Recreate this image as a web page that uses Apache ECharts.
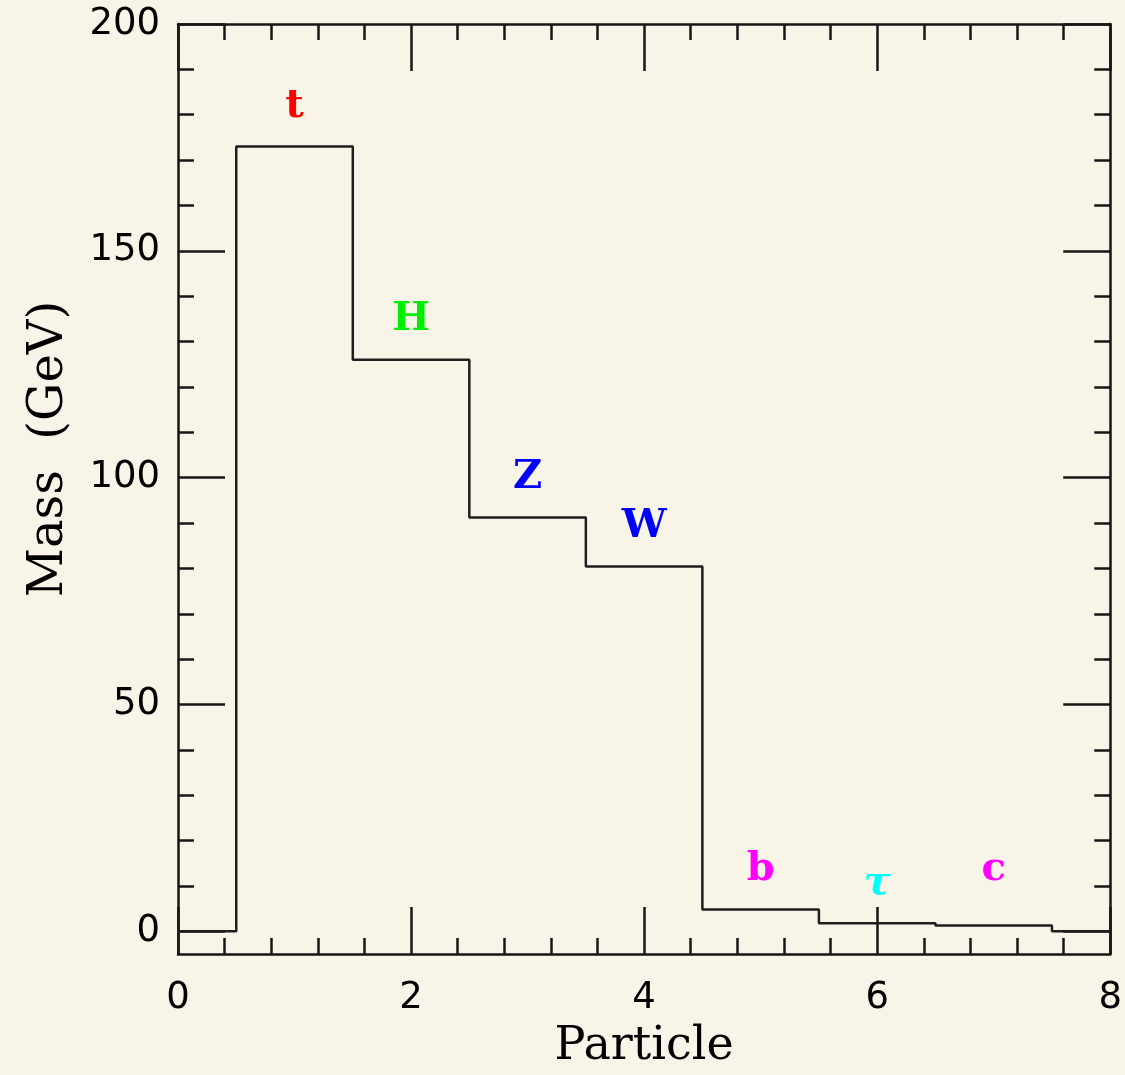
<!DOCTYPE html>
<html lang="en">
<head>
    <meta charset="UTF-8">
    <title>Particle masses</title>
    <script src="https://cdn.jsdelivr.net/npm/echarts@6/dist/echarts.min.js"></script>
    <style>
        html, body {
            margin: 0;
            padding: 0;
            background-color: #f8f4e8;
        }
        #chart {
            width: 1125px;
            height: 1075px;
        }
    </style>
</head>
<body>
<div id="chart"></div>
<script>
    // particles in order of mass, plotted at x = 1..7
    var particles = ['t', 'H', 'Z', 'W', 'b', 'τ', 'c'];
    var masses = [173, 126, 91.2, 80.4, 4.8, 1.8, 1.3];
    var labelColors = ['#ff0000', '#00ee00', '#0000ff', '#0000ff', '#ff00ff', '#00ffff', '#ff00ff'];

    // y tick values (axis starts a little below 0)
    var yMajorTicks = [0, 50, 100, 150, 200];
    var yMinorTicks = [10, 20, 30, 40, 60, 70, 80, 90, 110, 120, 130, 140, 160, 170, 180, 190];

    var chart = echarts.init(document.getElementById('chart'));

    // step histogram: flat 0 at both ends
    var stepData = [[0, 0]];
    masses.forEach(function (m, i) {
        var name = particles[i];
        stepData.push({
            value: [i + 1, m],
            label: {
                show: true,
                formatter: name,
                color: labelColors[i],
                fontStyle: name === 'τ' ? 'italic' : 'normal',
                // the c sits level with the b in the original
                distance: name === 'c' ? 36 : 20
            }
        });
    });
    stepData.push([8, 0]);

    var inkColor = '#161616';
    var tickFont = 'DejaVu Sans';
    var textFont = 'DejaVu Serif';

    function xAxisCfg(pos, showLabels) {
        return {
            type: 'value',
            position: pos,
            min: 0,
            max: 8,
            interval: 2,
            name: showLabels ? 'Particle' : '',
            nameLocation: 'middle',
            nameGap: 70,
            nameTextStyle: { fontFamily: textFont, fontSize: 46, color: '#000' },
            axisLine: { show: true, onZero: false, lineStyle: { color: inkColor, width: 2.5 } },
            axisTick: { show: true, inside: true, length: 47, lineStyle: { color: inkColor, width: 2.5 } },
            minorTick: { show: true, splitNumber: 5, length: 16, lineStyle: { color: inkColor, width: 2.5 } },
            axisLabel: { show: showLabels, margin: 26, fontFamily: tickFont, fontSize: 37, color: '#000' },
            splitLine: { show: false },
            minorSplitLine: { show: false }
        };
    }

    function yAxisCfg(pos, ticks, tickLen, major) {
        var showLabels = major && pos === 'left';
        return {
            type: 'value',
            position: pos,
            min: -5,
            max: 200,
            name: showLabels ? 'Mass  (GeV)' : '',
            nameLocation: 'middle',
            nameGap: 104,
            nameTextStyle: { fontFamily: textFont, fontSize: 48, color: '#000', padding: [0, 0, 0, 80] },
            axisLine: { show: major, onZero: false, lineStyle: { color: inkColor, width: 2.5 } },
            axisTick: { show: true, inside: true, length: tickLen, customValues: ticks, lineStyle: { color: inkColor, width: 2.5 } },
            axisLabel: { show: showLabels, customValues: ticks, margin: 18, fontFamily: tickFont, fontSize: 37, color: '#000' },
            splitLine: { show: false }
        };
    }

    var option = {
        backgroundColor: '#f8f4e8',
        animation: false,
        grid: { left: 178, right: 13, top: 24, bottom: 118 },
        xAxis: [xAxisCfg('bottom', true), xAxisCfg('top', false)],
        yAxis: [
            yAxisCfg('left', yMajorTicks, 47, true),
            yAxisCfg('left', yMinorTicks, 16, false),
            yAxisCfg('right', yMajorTicks, 47, true),
            yAxisCfg('right', yMinorTicks, 16, false)
        ],
        series: [{
            type: 'line',
            step: 'middle',
            data: stepData,
            showSymbol: true,
            symbol: 'circle',
            symbolSize: 0,
            lineStyle: { color: '#1e1e1e', width: 2.5 },
            label: {
                show: false,
                position: 'top',
                fontFamily: textFont,
                fontWeight: 'bold',
                fontSize: 40
            },
            labelLayout: { hideOverlap: false }
        }]
    };

    chart.setOption(option);
</script>
</body>
</html>
